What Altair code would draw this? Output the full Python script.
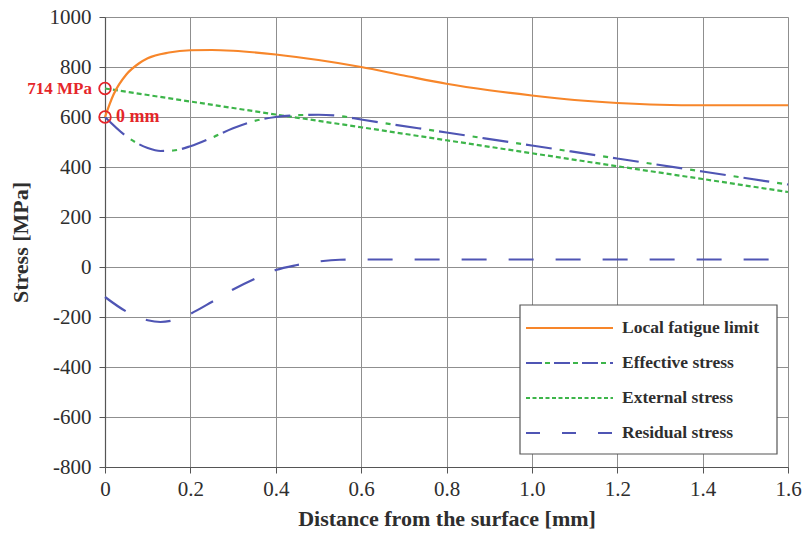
import altair as alt
import pandas as pd

# ---------------- data ----------------
fatigue_x = [0, 0.02, 0.05, 0.08, 0.1, 0.15, 0.2, 0.25, 0.3, 0.4, 0.5, 0.6, 0.7, 0.8, 0.9, 1.0, 1.1, 1.2, 1.3, 1.4, 1.5, 1.6]
fatigue_y = [600, 690, 770, 815, 835, 858, 867, 868, 865, 850, 828, 800, 766, 733, 707, 686, 668, 656, 649, 647, 647, 647]

effective_x = [0, 0.05, 0.1, 0.13, 0.16, 0.2, 0.25, 0.3, 0.35, 0.4, 0.45, 0.5, 0.55, 0.6, 0.8, 1.0, 1.2, 1.4, 1.6]
effective_y = [600, 523, 476, 464, 466, 483, 517, 555, 584, 600, 607, 609, 604, 590, 538, 486, 434, 382, 330]

external_x = [0, 0.2, 0.4, 0.6, 0.8, 1.0, 1.2, 1.4, 1.6]
external_y = [714, 662, 610, 559, 507, 455, 403, 352, 300]

residual_x = [0, 0.05, 0.1, 0.13, 0.16, 0.2, 0.25, 0.3, 0.35, 0.4, 0.45, 0.5, 0.55, 0.6, 0.8, 1.0, 1.2, 1.4, 1.6]
residual_y = [-120, -178, -213, -220, -213, -187, -140, -90, -48, -12, 8, 22, 29, 30, 30, 30, 30, 30, 30]

marker_x = [0, 0]
marker_y = [714, 600]
marker_text = ["714 MPa", "0 mm"]

x_ticks = [0, 0.2, 0.4, 0.6, 0.8, 1.0, 1.2, 1.4, 1.6]
y_ticks = [-800, -600, -400, -200, 0, 200, 400, 600, 800, 1000]

legend_labels = ["Local fatigue limit", "Effective stress", "External stress", "Residual stress"]

# ---------------- styling ----------------
FONT = "Liberation Serif"
ORANGE = "#F7862A"
BLUE = "#4F55B4"
GREEN = "#3DB54A"
RED = "#E5262A"
TXT = "#2E2E2E"
W, H = 683, 450

xs = alt.Scale(domain=[0, 1.6], nice=False, zero=False)
ys = alt.Scale(domain=[-800, 1000], nice=False, zero=False)

x_axis = alt.Axis(
    values=x_ticks, title="Distance from the surface [mm]",
    labelExpr="datum.value == 0 ? '0' : format(datum.value, '.1f')",
    labelFlush=False, labelOverlap=False,
    grid=True, gridColor="#8f8f8f", gridWidth=1,
    domainColor="#555555", domainWidth=1.2,
    tickColor="#555555", tickSize=6, labelPadding=5,
    labelFont=FONT, labelFontSize=21, labelColor=TXT,
    titleFont=FONT, titleFontSize=22, titleFontWeight="bold", titleColor=TXT,
    titlePadding=9,
)
y_axis = alt.Axis(
    values=y_ticks, title="Stress [MPa]",
    labelExpr="'' + datum.value",
    labelFlush=False, labelOverlap=False,
    grid=True, gridColor="#8f8f8f", gridWidth=1,
    domainColor="#555555", domainWidth=1.2,
    tickColor="#555555", tickSize=6, labelPadding=8,
    labelFont=FONT, labelFontSize=21, labelColor=TXT,
    titleFont=FONT, titleFontSize=22, titleFontWeight="bold", titleColor=TXT,
    titlePadding=17,
)

def frame(xv, yv):
    return pd.DataFrame({"x": xv, "y": yv})

X = alt.X("x:Q", scale=xs, axis=x_axis)
Y = alt.Y("y:Q", scale=ys, axis=y_axis)

residual = alt.Chart(frame(residual_x, residual_y)).mark_line(
    color=BLUE, strokeWidth=2.2, strokeDash=[25, 22], interpolate="monotone", strokeCap="butt"
).encode(x=X, y=Y)

external = alt.Chart(frame(external_x, external_y)).mark_line(
    color=GREEN, strokeWidth=2.2, strokeDash=[5, 3], strokeCap="butt"
).encode(x=X, y=Y)

eff_blue = alt.Chart(frame(effective_x, effective_y)).mark_line(
    color=BLUE, strokeWidth=2.2, strokeDash=[26, 18], interpolate="monotone", strokeCap="butt"
).encode(x=X, y=Y)
eff_green = alt.Chart(frame(effective_x, effective_y)).mark_line(
    color=GREEN, strokeWidth=2.2, strokeDash=[5, 39], strokeDashOffset=10,
    interpolate="monotone", strokeCap="butt"
).encode(x=X, y=Y)

fatigue = alt.Chart(frame(fatigue_x, fatigue_y)).mark_line(
    color=ORANGE, strokeWidth=2.2, interpolate="monotone"
).encode(x=X, y=Y)

mk = pd.DataFrame({"x": marker_x, "y": marker_y, "t": marker_text})
circles = alt.Chart(mk).mark_point(
    shape="circle", size=135, filled=False, color=RED, strokeWidth=1.8, opacity=1, clip=False
).encode(x=X, y=Y)
lbl1 = alt.Chart(mk.iloc[[0]]).mark_text(
    align="right", baseline="middle", dx=-13, font=FONT, fontSize=17, fontWeight="bold",
    color=RED, clip=False
).encode(x=X, y=Y, text="t:N")
lbl2 = alt.Chart(mk.iloc[[1]]).mark_text(
    align="left", baseline="middle", dx=11, font=FONT, fontSize=18, fontWeight="bold",
    color=RED, clip=False
).encode(x=X, y=Y, text="t:N")

# ---------------- manual legend (pixel placement inside plot area) ----------------
one = pd.DataFrame({"a": [0]})
box = alt.Chart(one).mark_rect(fill="white", stroke="#555555", strokeWidth=1.2).encode(
    x=alt.value(415), x2=alt.value(672), y=alt.value(288), y2=alt.value(437)
)
ly = [311, 346, 381, 416]
lx0, lx1, ltx = 421, 508, 517
sym = [
    alt.Chart(one).mark_rule(color=ORANGE, strokeWidth=2.2).encode(
        x=alt.value(lx0), x2=alt.value(lx1), y=alt.value(ly[0])),
    alt.Chart(one).mark_rule(color=BLUE, strokeWidth=2.2, strokeDash=[16, 12], strokeCap="butt").encode(
        x=alt.value(lx0), x2=alt.value(lx1), y=alt.value(ly[1])),
    alt.Chart(one).mark_rule(color=GREEN, strokeWidth=2.2, strokeDash=[5, 23], strokeDashOffset=-19, strokeCap="butt").encode(
        x=alt.value(lx0), x2=alt.value(lx1), y=alt.value(ly[1])),
    alt.Chart(one).mark_rule(color=GREEN, strokeWidth=2.2, strokeDash=[4, 2.5], strokeCap="butt").encode(
        x=alt.value(lx0), x2=alt.value(lx1), y=alt.value(ly[2])),
    alt.Chart(one).mark_rule(color=BLUE, strokeWidth=2.2, strokeDash=[14, 22], strokeCap="butt").encode(
        x=alt.value(lx0), x2=alt.value(lx1), y=alt.value(ly[3])),
]
texts = [
    alt.Chart(one).mark_text(align="left", baseline="middle", font=FONT, fontSize=17.5,
                             fontWeight="bold", color=TXT).encode(
        x=alt.value(ltx), y=alt.value(yy), text=alt.value(lab))
    for lab, yy in zip(legend_labels, ly)
]

chart = alt.layer(
    residual, external, eff_blue, eff_green, fatigue,
    circles, lbl1, lbl2, box, *sym, *texts
).properties(
    width=W, height=H,
    autosize=alt.AutoSizeParams(type="none"),
    padding={"left": 105, "top": 17, "right": 14, "bottom": 68},
).configure_view(stroke="#555555", strokeWidth=1.2).configure(background="white")

chart.save("out.html", embed_options={"renderer": "svg", "actions": False})
